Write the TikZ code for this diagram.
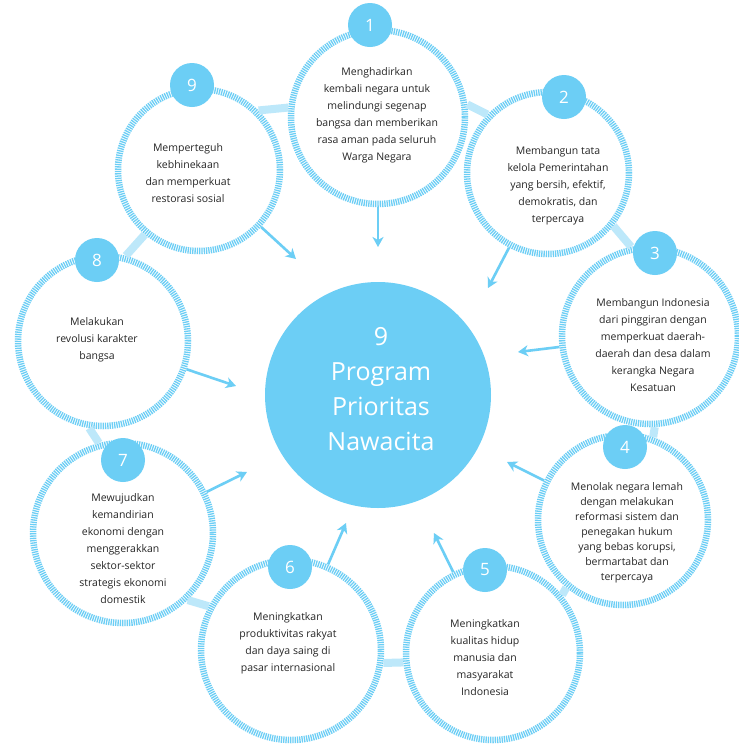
\documentclass[tikz,border=0pt]{standalone}
\usepackage{fontspec}
\setmainfont{Open Sans}
\usetikzlibrary{arrows.meta}
\definecolor{nblue}{HTML}{6CCEF5}
\definecolor{nlight}{HTML}{BDE8FA}
\begin{document}
\begin{tikzpicture}[x=1pt,y=-1pt,
  ring/.style={circle, draw=nblue, line width=6.5pt, dash pattern=on 1.3pt off 1pt, inner sep=0pt, minimum size=#1},
  badge/.style={circle, fill=nblue, inner sep=0pt, minimum size=44pt, text=white, font=\fontsize{17}{17}\selectfont},
  txt/.style={align=center, text=black!85, font=\fontsize{10.5}{17}\selectfont},
  arr/.style={draw=nblue, line width=2.6pt, -{Stealth[length=10pt,width=11pt,inset=3pt]}},
  band/.style={draw=nlight, line width=8pt}]
\useasboundingbox (0,0) rectangle (739,748);
\fill[white] (0,0) rectangle (739,748);

% rings
\node[ring=174pt] (c1) at (378,117) {};
\node[ring=162pt] (c2) at (548,173) {};
\node[ring=176pt] (c3) at (650,336) {};
\node[ring=170pt] (c4) at (623,520) {};
\node[ring=174pt] (c5) at (493,653) {};
\node[ring=180pt] (c6) at (291,650) {};
\node[ring=180pt] (c7) at (123,533) {};
\node[ring=170pt] (c8) at (103,341) {};
\node[ring=162pt] (c9) at (199,170) {};

% light bands between neighbouring rings
\draw[band] (c9.45) -- (c1.174);
\draw[band] (c1.8) -- (c2.136);
\draw[band] (c2.-39) -- (c3.102);
\draw[band] (c3.-87) -- (c4.70);
\draw[band] (c4.230) -- (c5.40);
\draw[band] (c5.186) -- (c6.-8);
\draw[band] (c6.152) -- (c7.-46);
\draw[band] (c8.-99) -- (c7.105);
\draw[band] (c9.230) -- (c8.75);

% centre
\node[circle, fill=nblue, minimum size=226pt, inner sep=0pt] (hub) at (378,395) {};
\node[align=center, text=white, font=\fontsize{25}{35}\selectfont] (hubtxt) at (381,389) {9\\Program\\Prioritas\\Nawacita};

% badges
\node[badge] (b1) at (370,25) {1};
\node[badge] (b2) at (564,97) {2};
\node[badge] (b3) at (655,253) {3};
\node[badge] (b4) at (625,447) {4};
\node[badge] (b5) at (485,570) {5};
\node[badge] (b6) at (290,567) {6};
\node[badge] (b7) at (123,460) {7};
\node[badge] (b8) at (97,260) {8};
\node[badge] (b9) at (192,85) {9};

% texts
\node[txt] (t1) at (377,115) {Menghadirkan\\kembali negara untuk\\melindungi segenap\\bangsa dan memberikan\\rasa aman pada seluruh\\Warga Negara};
\node[txt] (t2) at (558,186) {Membangun tata\\kelola Pemerintahan\\yang bersih, efektif,\\demokratis, dan\\terpercaya};
\node[txt] (t3) at (653,345) {Membangun Indonesia\\dari pinggiran dengan\\memperkuat daerah-\\daerah dan desa dalam\\kerangka Negara\\Kesatuan};
\node[txt, font=\fontsize{10.5}{15}\selectfont] (t4) at (627,533) {Menolak negara lemah\\dengan melakukan\\reformasi sistem dan\\penegakan hukum\\yang bebas korupsi,\\bermartabat dan\\terpercaya};
\node[txt] (t5) at (485,658) {Meningkatkan\\kualitas hidup\\manusia dan\\masyarakat\\Indonesia};
\node[txt] (t6) at (288,643) {Meningkatkan\\produktivitas rakyat\\dan daya saing di\\pasar internasional};
\node[txt] (t7) at (123,549) {Mewujudkan\\kemandirian\\ekonomi dengan\\menggerakkan\\sektor-sektor\\strategis ekonomi\\domestik};
\node[txt] (t8) at (97,340) {Melakukan\\revolusi karakter\\bangsa};
\node[txt] (t9) at (188,173) {Memperteguh\\kebhinekaan\\dan memperkuat\\restorasi sosial};

% arrow targets
\coordinate (a1) at (378,247);
\coordinate (a2) at (488,288);
\coordinate (a3) at (518,352);
\coordinate (a4) at (507,462);
\coordinate (a5) at (434,533);
\coordinate (a6) at (346,523);
\coordinate (a7) at (247,472);
\coordinate (a8) at (236,386);
\coordinate (a9) at (296,259);

\draw[arr] (c1) -- (a1);
\draw[arr] (c2) -- (a2);
\draw[arr] (c3) -- (a3);
\draw[arr] (c4) -- (a4);
\draw[arr] (c5) -- (a5);
\draw[arr] (c6) -- (a6);
\draw[arr] (c7) -- (a7);
\draw[arr] (c8) -- (a8);
\draw[arr] (c9) -- (a9);
\end{tikzpicture}
\end{document}
